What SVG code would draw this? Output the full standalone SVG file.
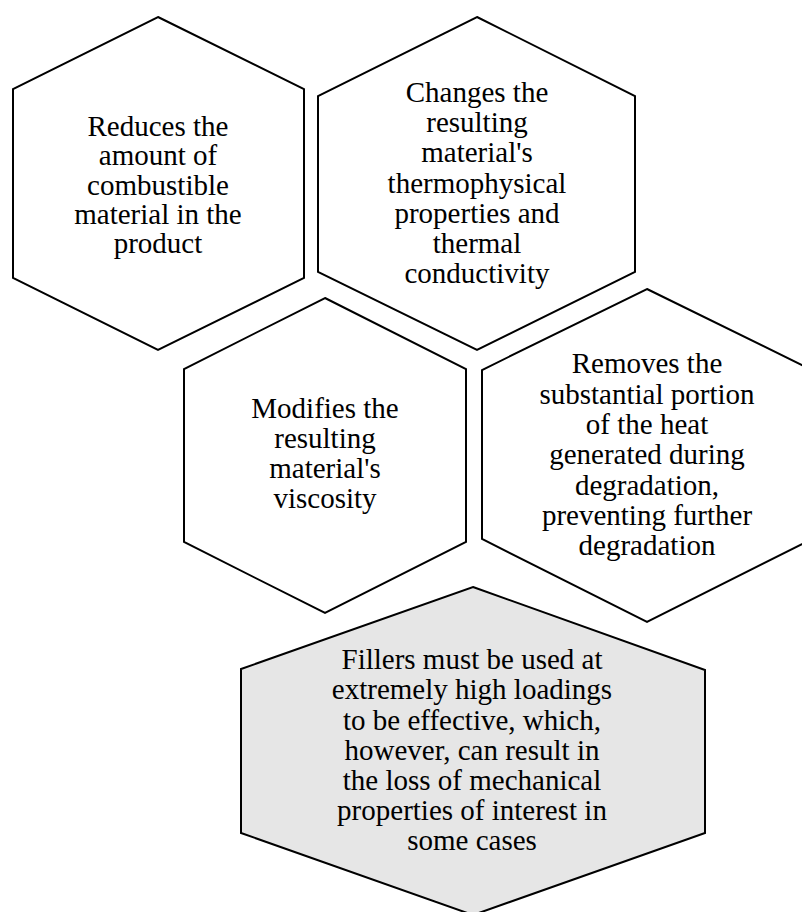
<svg xmlns="http://www.w3.org/2000/svg" width="802" height="912" viewBox="0 0 802 912">
<style>
.hex{fill:#ffffff;stroke:#000000;stroke-width:2;stroke-linejoin:miter}
.hex.gray{fill:#e6e6e6}
.t{font-family:"Liberation Serif","Times New Roman",serif;font-size:29px;fill:#000000;text-anchor:middle}
</style>
<rect width="802" height="912" fill="#ffffff"/>
<g id="node-reduces">
<polygon class="hex" points="158,17 304,89 304,278 158,350 13,278 13,89"/>
<text class="t" x="158" y="136">Reduces the</text>
<text class="t" x="158" y="165.3">amount of</text>
<text class="t" x="158" y="194.5">combustible</text>
<text class="t" x="158" y="223.8">material in the</text>
<text class="t" x="158" y="253">product</text>
</g>
<g id="node-changes">
<polygon class="hex" points="477,17 635,96 635,272 477,350 318,272 318,96"/>
<text class="t" x="477" y="101.7">Changes the</text>
<text class="t" x="477" y="132">resulting</text>
<text class="t" x="477" y="162.2">material's</text>
<text class="t" x="477" y="192.5">thermophysical</text>
<text class="t" x="477" y="222.8">properties and</text>
<text class="t" x="477" y="253">thermal</text>
<text class="t" x="477" y="283.3">conductivity</text>
</g>
<g id="node-modifies">
<polygon class="hex" points="325,298 466,369 466,542 325,613 184,542 184,369"/>
<text class="t" x="325" y="418.3">Modifies the</text>
<text class="t" x="325" y="448.3">resulting</text>
<text class="t" x="325" y="478.3">material's</text>
<text class="t" x="325" y="508.3">viscosity</text>
</g>
<g id="node-removes">
<polygon class="hex" points="647,289 812,370 812,539 647,622 482,539 482,370"/>
<text class="t" x="647" y="373.3">Removes the</text>
<text class="t" x="647" y="403.6">substantial portion</text>
<text class="t" x="647" y="433.9">of the heat</text>
<text class="t" x="647" y="464.2">generated during</text>
<text class="t" x="647" y="494.5">degradation,</text>
<text class="t" x="647" y="524.8">preventing further</text>
<text class="t" x="647" y="555">degradation</text>
</g>
<g id="node-fillers">
<polygon class="hex gray" points="473,587 705,670 705,833 473,915 241,833 241,669"/>
<text class="t" x="472" y="669.3">Fillers must be used at</text>
<text class="t" x="472" y="699.4">extremely high loadings</text>
<text class="t" x="472" y="729.5">to be effective, which,</text>
<text class="t" x="472" y="759.6">however, can result in</text>
<text class="t" x="472" y="789.7">the loss of mechanical</text>
<text class="t" x="472" y="819.8">properties of interest in</text>
<text class="t" x="472" y="850">some cases</text>
</g>
<g id="connectors"></g>
</svg>
